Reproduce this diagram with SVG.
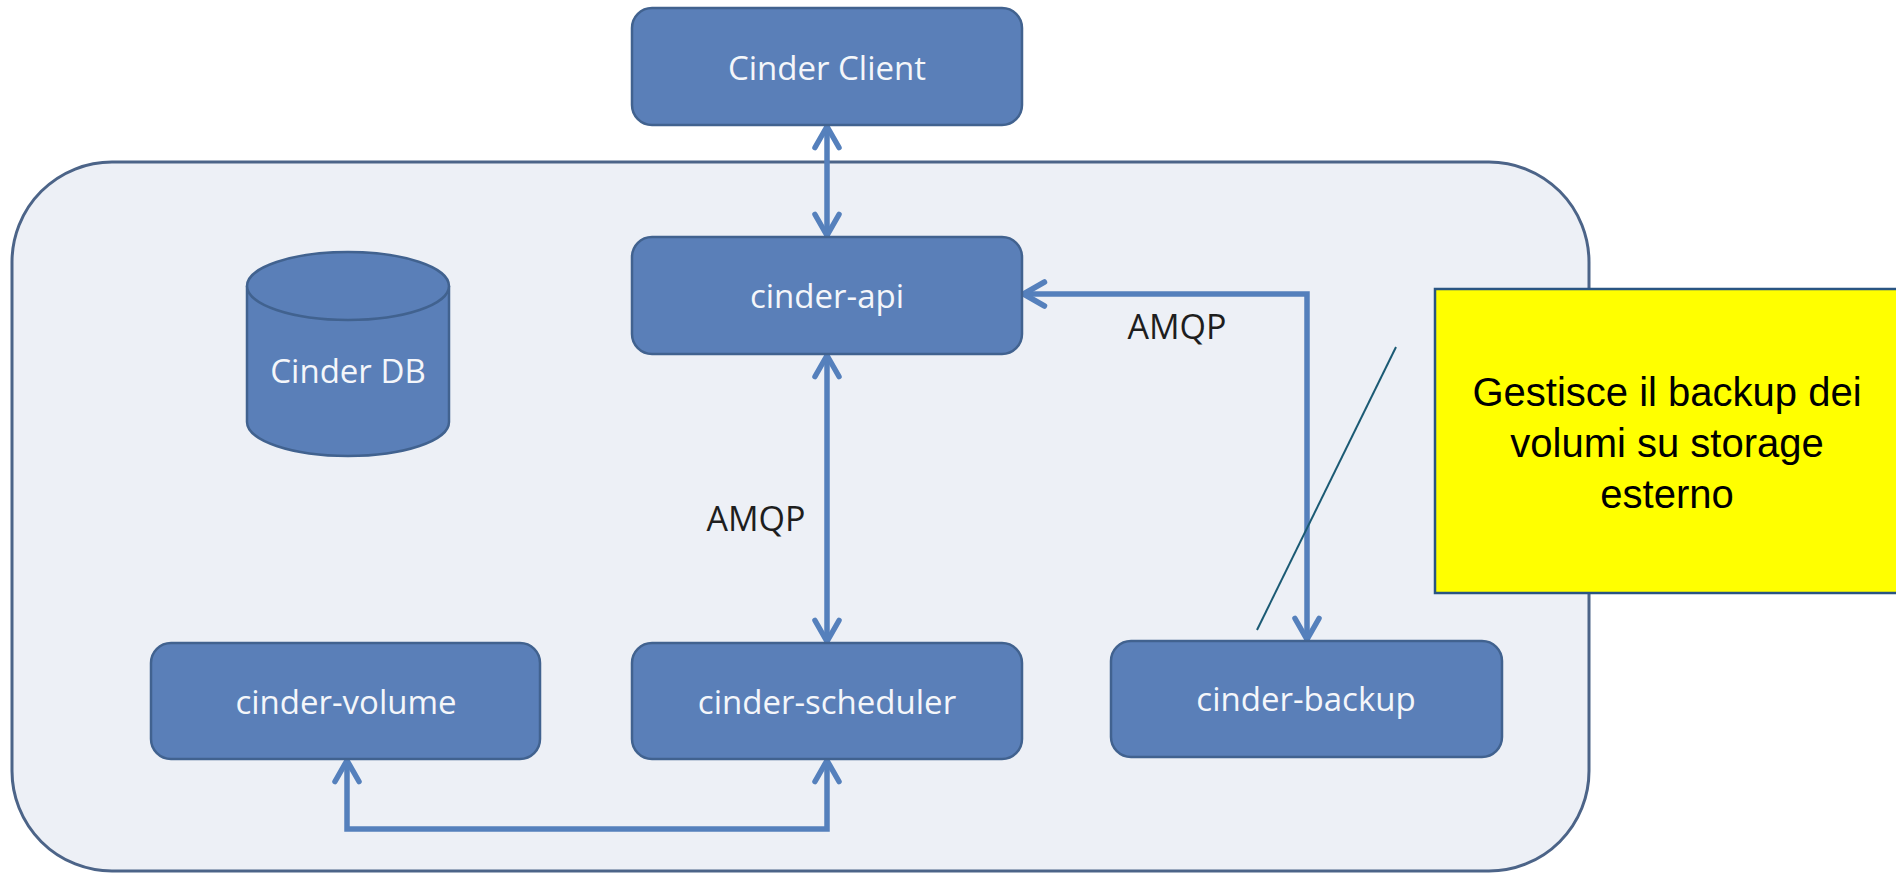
<svg xmlns="http://www.w3.org/2000/svg" width="1896" height="874" viewBox="0 0 1896 874">
<style>
.node{fill:#5a7fb8;stroke:#41628f;stroke-width:2.5}
.lbl{font-family:"Open Sans","Liberation Sans",sans-serif;font-size:33px;fill:#f4f6fa;text-anchor:middle}
.amqp{font-family:"Open Sans","Liberation Sans",sans-serif;font-size:34px;fill:#1e1e1e;text-anchor:middle}
.conn{fill:none;stroke:#5580bc;stroke-width:5.5;marker-start:url(#ah);marker-end:url(#ah)}
.note{font-family:"Liberation Sans",Arial,sans-serif;font-size:40px;fill:#000;text-anchor:middle}
</style>
<defs>
<marker id="ah" markerUnits="userSpaceOnUse" viewBox="-30 -20 40 40" refX="1.5" refY="0" markerWidth="40" markerHeight="40" orient="auto-start-reverse">
<path d="M-21,-12 L0,0 L-21,12" fill="none" stroke="#5580bc" stroke-width="5.5" stroke-linecap="round" stroke-linejoin="round"/>
</marker>
</defs>
<rect width="1896" height="874" fill="#ffffff"/>
<g id="container">
<rect x="12" y="162" width="1577" height="709" rx="100" ry="100" fill="#edf0f6" stroke="#4c6488" stroke-width="3"/>
</g>
<g id="connectors">
<path class="conn" d="M827,125 V237"/>
<path class="conn" d="M827,354 V643"/>
<path class="conn" d="M1022,294 H1307 V641"/>
<path class="conn" d="M347,759 V829 H827 V759"/>
<text class="amqp" x="756" y="531">AMQP</text>
<text class="amqp" x="1177" y="339">AMQP</text>
</g>
<g id="cinder-client">
<rect class="node" x="632" y="8" width="390" height="117" rx="20"/>
<text class="lbl" x="827" y="80">Cinder Client</text>
</g>
<g id="cinder-api">
<rect class="node" x="632" y="237" width="390" height="117" rx="20"/>
<text class="lbl" x="827" y="308">cinder-api</text>
</g>
<g id="cinder-db">
<path class="node" d="M247,286 V422 A101,34 0 0 0 449,422 V286"/>
<ellipse class="node" cx="348" cy="286" rx="101" ry="34"/>
<text class="lbl" x="348" y="383">Cinder DB</text>
</g>
<g id="cinder-volume">
<rect class="node" x="151" y="643" width="389" height="116" rx="20"/>
<text class="lbl" x="346" y="714">cinder-volume</text>
</g>
<g id="cinder-scheduler">
<rect class="node" x="632" y="643" width="390" height="116" rx="20"/>
<text class="lbl" x="827" y="714">cinder-scheduler</text>
</g>
<g id="cinder-backup">
<rect class="node" x="1111" y="641" width="391" height="116" rx="20"/>
<text class="lbl" x="1306" y="711">cinder-backup</text>
</g>
<g id="note">
<line x1="1257" y1="630" x2="1396" y2="347" stroke="#1b5a74" stroke-width="2"/>
<rect x="1435" y="289" width="470" height="304" fill="#ffff00" stroke="#2a5582" stroke-width="2.5"/>
<text class="note" x="1667" y="406">Gestisce il backup dei</text>
<text class="note" x="1667" y="457">volumi su storage</text>
<text class="note" x="1667" y="508">esterno</text>
</g>
</svg>
